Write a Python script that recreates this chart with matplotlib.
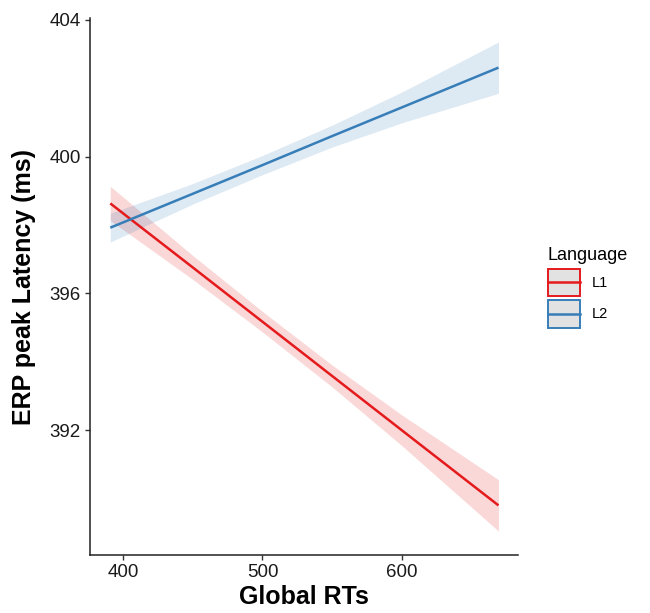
import matplotlib.pyplot as plt
from matplotlib.patches import Rectangle
from matplotlib.lines import Line2D
from matplotlib.legend_handler import HandlerBase
import numpy as np

plt.rcParams["font.family"] = ["Liberation Sans", "DejaVu Sans"]

# fitted lines with confidence ribbons
rt = [391, 450, 500, 550, 600, 669]
l1_fit = [398.63, 396.76, 395.17, 393.58, 391.99, 389.80]
l1_half = [0.50, 0.35, 0.30, 0.32, 0.45, 0.75]
l2_fit = [397.92, 398.91, 399.75, 400.60, 401.44, 402.60]
l2_half = [0.42, 0.30, 0.28, 0.32, 0.45, 0.75]

languages = ["L1", "L2"]
COLORS = {"L1": "#E41A1C", "L2": "#377EB8"}

x_ticks = [400, 500, 600]
y_ticks = [392, 396, 400, 404]


class LanguageKey:
    def __init__(self, color):
        self.color = color


class LanguageKeyHandler(HandlerBase):
    """grey box with coloured border and a line through the middle"""

    def create_artists(self, legend, orig_handle, xdescent, ydescent,
                       width, height, fontsize, trans):
        x0, y0 = -xdescent, -ydescent
        box = Rectangle((x0, y0), width, height, facecolor="#E2E2E2",
                        edgecolor=orig_handle.color, linewidth=1.4,
                        transform=trans)
        yc = y0 + height / 2
        line = Line2D([x0, x0 + width], [yc, yc], color=orig_handle.color,
                      linewidth=1.8, transform=trans)
        return [box, line]


fig = plt.figure(figsize=(6.5, 6.13), dpi=100)
ax = fig.add_axes([0.1385, 0.0946, 0.6585, 0.876])

series = {"L1": (l1_fit, l1_half), "L2": (l2_fit, l2_half)}
for lang in languages:
    fit, half = series[lang]
    fit = np.array(fit)
    half = np.array(half)
    ax.fill_between(rt, fit - half, fit + half, color=COLORS[lang],
                    alpha=0.17, linewidth=0)
for lang in languages:
    fit, half = series[lang]
    ax.plot(rt, fit, color=COLORS[lang], linewidth=1.8,
            solid_capstyle="butt")

ax.set_xlim(376.5, 683)
ax.set_ylim(388.35, 404.05)
ax.set_xticks(x_ticks)
ax.set_yticks(y_ticks)

for side in ["top", "right"]:
    ax.spines[side].set_visible(False)
for side in ["left", "bottom"]:
    ax.spines[side].set_linewidth(1.1)
    ax.spines[side].set_color("#222222")
ax.tick_params(axis="both", direction="out", length=3.5, width=1.0,
               color="#333333", labelsize=13.5, labelcolor="#1a1a1a", pad=3)

ax.set_xlabel("Global RTs", fontsize=18, fontweight="bold", labelpad=3)
ax.set_ylabel("ERP peak Latency (ms)", fontsize=18, fontweight="bold",
              labelpad=10)

handles = [LanguageKey(COLORS[lang]) for lang in languages]
fig.legend(handles, languages, title="Language", loc="center left",
           bbox_to_anchor=(0.843, 0.531), frameon=False, fontsize=10.5,
           title_fontsize=13, handlelength=2.2, handleheight=2.5,
           labelspacing=0.3, handletextpad=0.8, borderpad=0,
           borderaxespad=0, alignment="left",
           handler_map={LanguageKey: LanguageKeyHandler()})

fig.savefig("out.png", dpi=100)
